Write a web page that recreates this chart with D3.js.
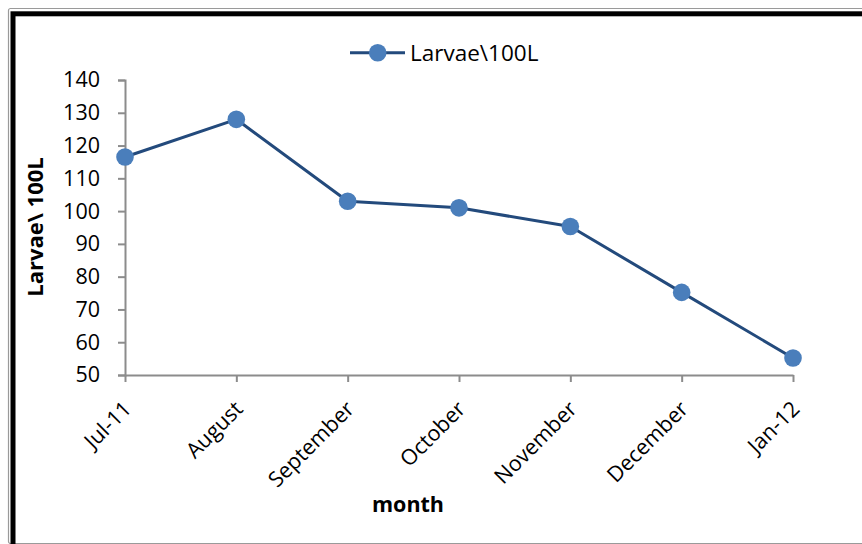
<!DOCTYPE html>
<html>
<head>
<meta charset="utf-8">
<script src="https://cdn.jsdelivr.net/npm/d3@7/dist/d3.min.js"></script>
<style>
  html, body { margin: 0; padding: 0; background: #fff; }
  svg { display: block; }
  text { font-family: "Open Sans", "Noto Sans", sans-serif; fill: #000; }
</style>
</head>
<body>
<svg id="chart" width="862" height="544"></svg>
<script>
// Monthly larval density, July 2011 – January 2012
const months = ["Jul-11", "August", "September", "October", "November", "December", "Jan-12"];
const larvae = [116.5, 128, 103, 101, 95.3, 75.2, 55.2];
const yTicks = [50, 60, 70, 80, 90, 100, 110, 120, 130, 140];
const seriesName = "Larvae\\100L";
const yTitle = "Larvae\\ 100L";
const xTitle = "month";

const W = 862, H = 544;
const plot = { left: 125, right: 793, top: 80, bottom: 375 };
const lineColor = "#234a7c";
const markerColor = "#4a7ebb";
const axisColor = "#8c8c8c";
const tickFont = "21.5px";

const svg = d3.select("#chart");

// Page frame: thin grey outer rule and heavy black rule along left/top
svg.append("rect")
  .attr("x", 8.5).attr("y", 8.5)
  .attr("width", W + 20).attr("height", 535)
  .attr("rx", 2)
  .attr("fill", "none").attr("stroke", "#9a9a9a").attr("stroke-width", 1.2);
svg.append("rect")
  .attr("x", 13).attr("y", 13.8)
  .attr("width", W + 40).attr("height", H + 40)
  .attr("fill", "none").attr("stroke", "#000").attr("stroke-width", 5);

const x = d3.scalePoint().domain(months).range([plot.left, plot.right]).padding(0);
const y = d3.scaleLinear().domain([50, 140]).range([plot.bottom, plot.top]);

// Y axis
const yAxis = svg.append("g")
  .attr("transform", `translate(${plot.left},0)`)
  .call(d3.axisLeft(y).tickValues(yTicks).tickSize(7).tickPadding(18).tickFormat(d3.format("d")));
yAxis.select(".domain").attr("stroke", axisColor).attr("stroke-width", 2);
yAxis.selectAll(".tick line").attr("stroke", axisColor).attr("stroke-width", 2);
yAxis.selectAll(".tick text")
  .style("font-family", "'Open Sans', sans-serif")
  .style("font-size", tickFont).attr("fill", "#000");

// X axis
const xAxis = svg.append("g")
  .attr("transform", `translate(0,${plot.bottom})`)
  .call(d3.axisBottom(x).tickSize(7).tickSizeOuter(0));
xAxis.select(".domain").attr("stroke", axisColor).attr("stroke-width", 2);
xAxis.selectAll(".tick line").attr("stroke", axisColor).attr("stroke-width", 2);
xAxis.selectAll(".tick text")
  .style("font-family", "'Open Sans', sans-serif")
  .style("font-size", tickFont).attr("fill", "#000")
  .attr("text-anchor", "end")
  .attr("x", 0).attr("y", 0).attr("dy", "0.35em")
  .attr("transform", "translate(2,30) rotate(-45)");

// Series line and markers
const line = d3.line().x((d, i) => x(months[i])).y(d => y(d));
svg.append("path")
  .datum(larvae)
  .attr("d", line)
  .attr("fill", "none")
  .attr("stroke", lineColor)
  .attr("stroke-width", 3)
  .attr("stroke-linejoin", "round");
svg.selectAll("circle.pt")
  .data(larvae)
  .join("circle")
  .attr("class", "pt")
  .attr("cx", (d, i) => x(months[i]))
  .attr("cy", d => y(d))
  .attr("r", 8.8)
  .attr("fill", markerColor);

// Legend
const lg = svg.append("g");
lg.append("line")
  .attr("x1", 350).attr("x2", 405).attr("y1", 52.7).attr("y2", 52.7)
  .attr("stroke", lineColor).attr("stroke-width", 3);
lg.append("circle").attr("cx", 377.7).attr("cy", 52.7).attr("r", 8.8).attr("fill", markerColor);
lg.append("text")
  .attr("x", 410).attr("y", 61)
  .style("font-size", "22.5px")
  .text(seriesName);

// Axis titles
svg.append("text")
  .attr("transform", "translate(43,227) rotate(-90)")
  .attr("text-anchor", "middle")
  .style("font-size", "22px").style("font-weight", "bold")
  .text(yTitle);
svg.append("text")
  .attr("x", 408).attr("y", 512)
  .attr("text-anchor", "middle")
  .style("font-size", "21.5px").style("font-weight", "bold")
  .text(xTitle);
</script>
</body>
</html>
